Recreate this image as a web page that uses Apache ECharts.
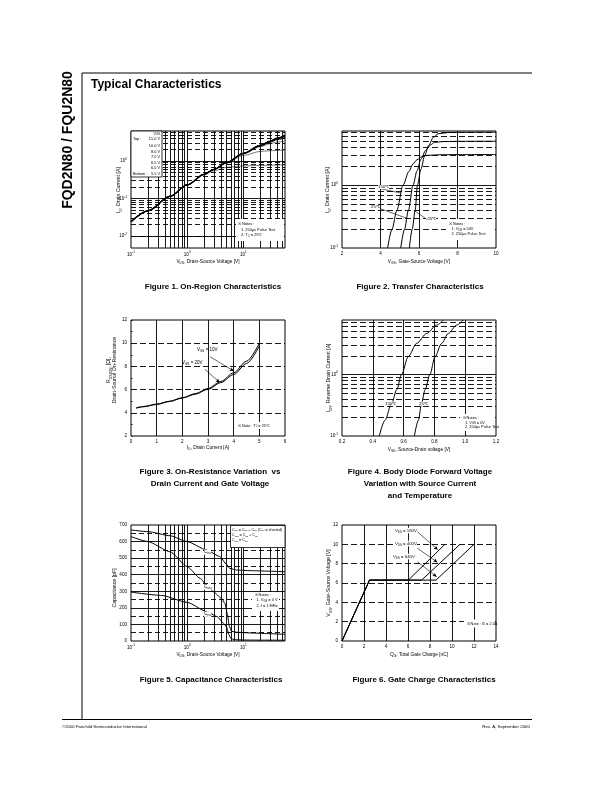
<!DOCTYPE html>
<html><head><meta charset="utf-8">
<script src="https://cdn.jsdelivr.net/npm/echarts/dist/echarts.min.js"></script>
<style>html,body{margin:0;padding:0;background:#fff}#c{width:612px;height:792px}</style>
</head><body><div id="c"></div>
<script>
// ---------------- DATA ----------------
// Figure 1: On-Region Characteristics (VDS [V] vs ID [A])
const f1_vds = [0.1, 0.2, 0.5, 1, 2, 3, 5, 10, 20, 30, 40, 55];
const f1_id_15v = [0.024, 0.047, 0.115, 0.23, 0.44, 0.6, 0.9, 1.6, 2.6, 3.4, 4.1, 4.85];
const f1_id_10v = [0.024, 0.047, 0.115, 0.23, 0.44, 0.6, 0.9, 1.6, 2.6, 3.35, 4.0, 4.7];
const f1_id_8v  = [0.024, 0.047, 0.115, 0.23, 0.44, 0.6, 0.9, 1.6, 2.55, 3.3, 3.9, 4.5];
const f1_id_7v  = [0.024, 0.047, 0.115, 0.23, 0.44, 0.6, 0.9, 1.6, 2.5, 3.2, 3.7, 4.2];
const f1_id_6v5 = [0.024, 0.047, 0.115, 0.23, 0.44, 0.6, 0.9, 1.55, 2.4, 2.9, 3.2, 3.35];
const f1_id_6v  = [0.024, 0.047, 0.115, 0.23, 0.44, 0.6, 0.88, 1.4, 1.8, 1.88, 1.92, 1.95];
const f1_id_5v5 = [0.024, 0.047, 0.115, 0.23, 0.43, 0.55, 0.68, 0.74, 0.76, 0.77, 0.78, 0.8];
const f1_legend = ['15.0 V', '10.0 V', '8.0 V', '7.0 V', '6.5 V', '6.0 V', '5.5 V'];

// Figure 2: Transfer Characteristics (VGS [V] vs ID [A])
const f2_vgs_150 = [4.37, 4.6, 4.85, 5.17, 5.47, 5.7, 5.9, 6.15, 6.4, 7, 8, 10];
const f2_id_150  = [0.1, 0.2, 0.4, 1.0, 1.65, 2.2, 2.55, 2.85, 2.98, 3.05, 3.07, 3.08];
const f2_vgs_25  = [5.05, 5.25, 5.45, 5.69, 5.9, 6.1, 6.35, 6.6, 6.8, 7.2, 8, 10];
const f2_id_25   = [0.1, 0.2, 0.4, 1.0, 1.7, 2.6, 3.6, 4.4, 4.8, 4.95, 5.0, 5.02];
const f2_vgs_m55 = [5.5, 5.65, 5.8, 5.92, 6.1, 6.3, 6.5, 6.75, 7.0, 7.5, 8, 10];
const f2_id_m55  = [0.1, 0.2, 0.4, 1.0, 1.8, 3.0, 4.3, 5.8, 6.6, 6.9, 6.95, 7.0];

// Figure 3: On-Resistance (ID [A] vs RDS(on) [ohm])
const f3_id   = [0.2, 0.5, 1, 1.5, 2, 2.5, 3, 3.5, 4, 4.5, 5];
const f3_r10v = [4.42, 4.55, 4.75, 5.0, 5.3, 5.65, 6.1, 6.7, 7.45, 8.45, 10.0];
const f3_r20v = [4.40, 4.52, 4.72, 4.97, 5.27, 5.6, 6.03, 6.6, 7.3, 8.25, 9.75];

// Figure 4: Body Diode (VSD [V] vs IDR [A])
const f4_vsd_150 = [0.442, 0.479, 0.523, 0.555, 0.587, 0.63, 0.685, 0.75, 0.815, 0.858];
const f4_idr_150 = [0.1, 0.18, 0.34, 0.56, 1.0, 1.93, 3.18, 4.6, 6.3, 7.6];
const f4_vsd_25  = [0.67, 0.696, 0.717, 0.739, 0.771, 0.804, 0.847, 0.89, 0.945, 0.988];
const f4_idr_25  = [0.1, 0.18, 0.34, 0.56, 1.0, 1.93, 3.18, 4.6, 6.3, 7.6];

// Figure 5: Capacitance (VDS [V] vs C [pF])
const f5_vds_ciss = [0.1, 0.2, 0.5, 1, 2.2, 3.8, 5.0, 5.7, 7.6, 15, 30, 55];
const f5_ciss     = [670, 660, 635, 600, 550, 510, 463, 438, 428, 424, 421, 418];
const f5_vds_coss = [0.1, 0.2, 0.5, 1, 1.7, 2.2, 2.9, 4.1, 4.7, 5.2, 5.6, 6.2, 8, 15, 30, 55];
const f5_coss     = [630, 600, 538, 449, 378, 338, 298, 257, 227, 160, 90, 58, 52, 48, 44, 40];
const f5_vds_crss = [0.1, 0.35, 1, 2.25, 3.4, 4.45, 5.0, 5.5, 6.0, 7, 10, 20, 55];
const f5_crss     = [295, 275, 233, 177, 147, 107, 85, 40, 15, 8, 6, 5, 5];

// Figure 6: Gate Charge (QG [nC] vs VGS [V])
const f6_qg_160 = [0, 2.5, 6.03, 9.36];
const f6_qg_400 = [0, 2.5, 7.24, 10.73];
const f6_qg_640 = [0, 2.5, 8.55, 12.0];
const f6_vgs    = [0, 6.3, 6.3, 10.0];

// grid line values
const logMinors = [0.2,0.3,0.4,0.5,0.6,0.7,0.8,0.9,1,2,3,4,5,6,7,8,9,10,20,30,40,50];
const f1_yMajor = [0.01, 0.1, 1];
const f1_yMinor = [0.005,0.006,0.007,0.008,0.009,0.02,0.03,0.04,0.05,0.06,0.07,0.08,0.09,0.2,0.3,0.4,0.5,0.6,0.7,0.8,0.9,2,3,4,5,6];
const dec1Minor = [0.2,0.3,0.4,0.5,0.6,0.7,0.8,0.9,2,3,4,5,6,7];
const f5_yMajor = [100,200,300,400,500,600];
const f5_yMinor = [50,150,250,350,450,550,650];

// ---------------- HELPERS ----------------
const F = "'Liberation Sans', Arial, Helvetica, sans-serif";
function rich(size) {
  return {
    s: {fontSize: size*0.68, fontFamily: F, fill:'#000', color:'#000', padding:[size*0.6,0,0,0]},
    u: {fontSize: size*0.68, fontFamily: F, fill:'#000', color:'#000', padding:[0,0,size*0.8,0]}
  };
}
function txt(x, y, s, size, o) {
  o = o || {};
  const st = {
    text: s, x: 0, y: 0, fill: '#000', fontSize: size, fontFamily: F,
    fontWeight: o.bold ? 'bold' : 'normal',
    align: o.align || 'left', verticalAlign: 'middle',
    textAlign: o.align || 'left', textVerticalAlign: 'middle',
    rich: rich(size)
  };
  if (o.bg) { st.backgroundColor = o.bg; }
  return {type:'text', x:x, y:y, rotation: o.rot || 0, z: 100, silent: true, style: st};
}
function box(x, y, w, h, stroke) {
  return {type:'rect', z: 99, silent:true, shape:{x:x, y:y, width:w, height:h},
    style:{fill:'#fff', stroke: stroke ? '#000' : null, lineWidth: 0.8}};
}
function hline(x1, y1, x2, y2, w) {
  return {type:'line', z: 99, silent:true, shape:{x1:x1,y1:y1,x2:x2,y2:y2}, style:{stroke:'#000', lineWidth:w||1}};
}
function gl(vS, vD, hS, hD, dash) {
  const d = [];
  const dt = {type: dash || [5,3]};
  vS.forEach(v => d.push({xAxis: v}));
  vD.forEach(v => d.push({xAxis: v, lineStyle: dt}));
  hS.forEach(v => d.push({yAxis: v}));
  hD.forEach(v => d.push({yAxis: v, lineStyle: dt}));
  return {silent:true, symbol:['none','none'], label:{show:false}, animation:false,
    lineStyle:{color:'#000', width:0.9, type:'solid'}, data:d};
}
function arrows(list, arrow) {
  return {silent:true, symbol:['none', arrow ? 'arrow' : 'none'], symbolSize:[3,4], label:{show:false}, animation:false,
    lineStyle:{color:'#000', width:0.6, type:'solid'},
    data: list.map(a => [{coord:[a[0],a[1]]},{coord:[a[2],a[3]]}])};
}
function curve(gi, xs, ys, o) {
  o = o || {};
  return {type:'line', xAxisIndex:gi, yAxisIndex:gi, data: xs.map((x,i)=>[x, ys[i]]),
    symbol:'none', showSymbol:false, smooth: (o.smooth === undefined ? 0.3 : o.smooth), smoothMonotone:'x',
    silent:true, animation:false, z: o.z || 3,
    lineStyle:{color: o.color || '#000', width: o.width || 1}, markLine: o.markLine};
}
function logFmt(v) {
  const l = Math.log10(v), r = Math.round(l);
  if (Math.abs(l - r) > 1e-6) return '';
  return '10{u|' + r + '}';
}
const LBL = 4.6;
function axisBase(gi, type, min, max, extra, isY) {
  const a = {type: type, gridIndex: gi, min: min, max: max,
    axisLine:{show:false}, axisTick:{show:false}, splitLine:{show:false},
    axisLabel:{fontSize:LBL, color:'#000', fontFamily:F, margin: isY ? 4 : 3,
      rich:{u:{fontSize:LBL*0.68, fontFamily:F, color:'#000', padding:[0,0,LBL*0.8,0]}}}};
  if (type === 'log') { a.logBase = 10; a.axisLabel.formatter = logFmt; }
  return Object.assign(a, extra || {});
}

// ---------------- LAYOUT ----------------
const grids = [
  {left:131, top:131, width:154, height:117},
  {left:342, top:131, width:154, height:117},
  {left:131, top:320, width:154, height:116},
  {left:342, top:320, width:154, height:116},
  {left:131, top:525, width:154, height:116},
  {left:342, top:525, width:154, height:116}
].map(g => Object.assign({show:true, borderColor:'#000', borderWidth:1, backgroundColor:'transparent', containLabel:false}, g));

const xAxes = [
  axisBase(0, 'log', 0.1, 55),
  axisBase(1, 'value', 2, 10, {interval:2}),
  axisBase(2, 'value', 0, 6, {interval:1}),
  axisBase(3, 'value', 0.2, 1.2, {interval:0.2}),
  axisBase(4, 'log', 0.1, 55),
  axisBase(5, 'value', 0, 14, {interval:2})
];
xAxes[3].axisLabel.formatter = v => v.toFixed(1);
const yAxes = [
  axisBase(0, 'log', 0.0048, 6.3, null, true),
  axisBase(1, 'log', 0.1, 7.3, null, true),
  axisBase(2, 'value', 2, 12, {interval:2, axisTick:{show:true, inside:true, length:2, lineStyle:{color:'#000', width:0.6}},
    minorTick:{show:true, splitNumber:2, length:2, lineStyle:{color:'#000', width:0.6}}}, true),
  axisBase(3, 'log', 0.1, 7.6, null, true),
  axisBase(4, 'value', 0, 700, {interval:100}, true),
  axisBase(5, 'value', 0, 12, {interval:2}, true)
];

const series = [
  // fig 1
  curve(0, f1_vds, f1_id_5v5, {color:'#777', z:2, markLine: gl(logMinors, [], f1_yMajor, f1_yMinor)}),
  curve(0, f1_vds, f1_id_6v, {color:'#777', z:2}),
  curve(0, f1_vds, f1_id_6v5, {color:'#777', z:2}),
  curve(0, f1_vds, f1_id_7v, {width:1}),
  curve(0, f1_vds, f1_id_8v, {width:1}),
  curve(0, f1_vds, f1_id_10v, {width:1.2}),
  curve(0, f1_vds, f1_id_15v, {width:1.3}),
  // fig 2
  curve(1, f2_vgs_150, f2_id_150, {markLine: gl([4,6,8], [], [1], dec1Minor, [6,3])}),
  curve(1, f2_vgs_25, f2_id_25, {markLine: arrows([[4.0,0.88,5.05,0.75],[3.97,0.425,5.33,0.3],[6.31,0.3,5.8,0.385]], false)}),
  curve(1, f2_vgs_m55, f2_id_m55),
  // fig 3
  curve(2, f3_id, f3_r20v, {markLine: gl([1,2,3,4,5], [], [], [4,6,8,10], [6,3])}),
  curve(2, f3_id, f3_r10v, {markLine: arrows([[3.08,8.84,4.0,7.6],[2.88,7.75,3.45,6.62]], true)}),
  // fig 4
  curve(3, f4_vsd_150, f4_idr_150, {markLine: gl([0.4,0.6,0.8,1.0], [], [1], dec1Minor, [6,3])}),
  curve(3, f4_vsd_25, f4_idr_25),
  // fig 5
  curve(4, f5_vds_ciss, f5_ciss, {smooth:0.2, markLine: gl(logMinors, [], f5_yMajor, f5_yMinor)}),
  curve(4, f5_vds_coss, f5_coss, {smooth:0.2}),
  curve(4, f5_vds_crss, f5_crss, {smooth:0.2}),
  // fig 6
  curve(5, f6_qg_160, f6_vgs, {smooth:false, markLine: gl([2,4,6,8,10,12], [], [], [2,4,6,8,10], [6,3])}),
  curve(5, f6_qg_400, f6_vgs, {smooth:false, markLine: arrows([[6.85,11.3,8.7,9.45],[6.85,9.6,8.66,8.15],[6.85,8.2,8.6,6.65]], true)}),
  curve(5, f6_qg_640, f6_vgs, {smooth:false})
];

// ---------------- TEXT / DECOR ----------------
const G = [];
// page frame
G.push(hline(82, 73, 532, 73, 1));
G.push(hline(82, 73, 82, 719, 1));
G.push(hline(62, 719.5, 532, 719.5, 1));
G.push(txt(68, 140, 'FQD2N80 / FQU2N80', 14, {bold:true, align:'center', rot: Math.PI/2}));
G.push(txt(91, 85, 'Typical Characteristics', 12, {bold:true}));
G.push(txt(62, 727, '©2000 Fairchild Semiconductor International', 4.3));
G.push(txt(530, 727, 'Rev. A, September 2000', 4.4, {align:'right'}));

// captions
const CAP = 8;
G.push(txt(213, 287, 'Figure 1. On-Region Characteristics', CAP, {bold:true, align:'center'}));
G.push(txt(420, 287, 'Figure 2. Transfer Characteristics', CAP, {bold:true, align:'center'}));
G.push(txt(210, 472, 'Figure 3. On-Resistance Variation  vs', CAP, {bold:true, align:'center'}));
G.push(txt(210, 484, 'Drain Current and Gate Voltage', CAP, {bold:true, align:'center'}));
G.push(txt(420, 472, 'Figure 4. Body Diode Forward Voltage', CAP, {bold:true, align:'center'}));
G.push(txt(420, 484, 'Variation with Source Current', CAP, {bold:true, align:'center'}));
G.push(txt(420, 496, 'and Temperature', CAP, {bold:true, align:'center'}));
G.push(txt(211, 680, 'Figure 5. Capacitance Characteristics', CAP, {bold:true, align:'center'}));
G.push(txt(424, 680, 'Figure 6. Gate Charge Characteristics', CAP, {bold:true, align:'center'}));

// axis titles
const XT = 4.8, YT = 5.2, R90 = Math.PI/2;
G.push(txt(208, 262, 'V{s|DS}, Drain-Source Voltage [V]', XT, {align:'center'}));
G.push(txt(119, 190, 'I{s|D}, Drain Current [A]', YT, {align:'center', rot:R90}));
G.push(txt(419, 262, 'V{s|GS}, Gate-Source Voltage [V]', XT, {align:'center'}));
G.push(txt(328, 190, 'I{s|D}, Drain Current [A]', YT, {align:'center', rot:R90}));
G.push(txt(208, 448, 'I{s|D}, Drain Current [A]', XT, {align:'center'}));
G.push(txt(109, 370, 'R{s|DS(ON)} [Ω],', YT, {align:'center', rot:R90}));
G.push(txt(115, 370, 'Drain-Source On-Resistance', YT, {align:'center', rot:R90}));
G.push(txt(419, 450, 'V{s|SD}, Source-Drain voltage [V]', XT, {align:'center'}));
G.push(txt(329, 378, 'I{s|DR}, Reverse Drain Current [A]', YT, {align:'center', rot:R90}));
G.push(txt(208, 655, 'V{s|DS}, Drain-Source Voltage [V]', XT, {align:'center'}));
G.push(txt(115, 588, 'Capacitance [pF]', YT, {align:'center', rot:R90}));
G.push(txt(419, 655, 'Q{s|G}, Total Gate Charge [nC]', XT, {align:'center'}));
G.push(txt(329, 583, 'V{s|GS}, Gate-Source Voltage [V]', YT, {align:'center', rot:R90}));

// fig 1 legend box + notes
const NT = 3.9;
G.push(box(131, 131, 31, 46, true));
G.push(txt(160, 133.5, 'V{s|GS}', NT, {align:'right'}));
G.push(txt(133, 139, 'Top :', NT));
G.push(txt(133, 174, 'Bottom :', NT));
const f1LegY = [139, 145.7, 151.5, 157.2, 162.8, 168.4, 174];
f1_legend.forEach((s, i) => G.push(txt(160, f1LegY[i], s, NT, {align:'right'})));
G.push(box(236, 219, 48, 22, false));
G.push(txt(238, 224, '※ Notes :', NT));
G.push(txt(241, 229.5, '1. 250μs Pulse Test', NT));
G.push(txt(241, 235, '2. T{s|C} = 25℃', NT));

// fig 2 labels
G.push(txt(378, 187, '150℃', 4.3, {bg:'#fff'}));
G.push(txt(371, 207, '25℃', 4.3, {bg:'#fff'}));
G.push(txt(426, 219, '-55℃', 4.3, {bg:'#fff'}));
G.push(box(446, 219, 49, 21, false));
G.push(txt(449, 223.5, '※ Notes :', NT));
G.push(txt(451.5, 228.8, '1. V{s|DS} = 50V', NT));
G.push(txt(451.5, 233.8, '2. 250μs Pulse Test', NT));

// fig 3 labels
G.push(txt(197, 350, 'V{s|GS} = 10V', 4.5));
G.push(txt(182, 363, 'V{s|GS} = 20V', 4.5));
G.push(box(236, 422, 36, 7, false));
G.push(txt(238, 425.5, '※ Note : T{s|J} = 25℃', NT));

// fig 4 labels
G.push(txt(385, 403.5, '150℃', 4.3, {bg:'#fff'}));
G.push(txt(419, 403.5, '25℃', 4.3, {bg:'#fff'}));
G.push(box(460, 414, 34, 17, false));
G.push(txt(462.5, 418, '※ Notes :', NT));
G.push(txt(465, 422.5, '1. V{s|GS} = 0V', NT));
G.push(txt(465, 427, '2. 250μs Pulse Test', NT));

// fig 5 labels
G.push(box(230.5, 525.5, 54.5, 22, true));
G.push(txt(232, 529.5, 'C{s|iss} = C{s|gs} + C{s|gd} (C{s|ds} = shorted)', 3.7));
G.push(txt(232, 534.8, 'C{s|oss} = C{s|ds} + C{s|gd}', 3.7));
G.push(txt(232, 540, 'C{s|rss} = C{s|gd}', 3.7));
G.push(txt(204, 552, 'C{s|iss}', 4.5, {bg:'#fff'}));
G.push(txt(204, 587, 'C{s|oss}', 4.5, {bg:'#fff'}));
G.push(txt(204, 614, 'C{s|rss}', 4.5, {bg:'#fff'}));
G.push(box(252, 592, 27, 19, false));
G.push(txt(254.5, 595, '※ Notes :', NT));
G.push(txt(256.5, 600.3, '1. V{s|GS} = 0 V', NT));
G.push(txt(256.5, 605.5, '2. f = 1 MHz', NT));

// fig 6 labels
G.push(txt(395, 530.5, 'V{s|DS} = 160V', 4.3, {bg:'#fff'}));
G.push(txt(395, 543.5, 'V{s|DS} = 400V', 4.3, {bg:'#fff'}));
G.push(txt(393, 556.5, 'V{s|DS} = 640V', 4.3, {bg:'#fff'}));
G.push(box(464, 619.5, 29, 8, false));
G.push(txt(466.5, 623.5, '※ Note : I{s|D} = 2.0A', NT));

const chart = echarts.init(document.getElementById('c'), null, {renderer:'canvas', width:612, height:792});
chart.setOption({
  animation:false,
  backgroundColor:'#fff',
  textStyle:{fontFamily:F},
  grid: grids,
  xAxis: xAxes,
  yAxis: yAxes,
  series: series,
  graphic: {elements: G}
});
</script></body></html>
